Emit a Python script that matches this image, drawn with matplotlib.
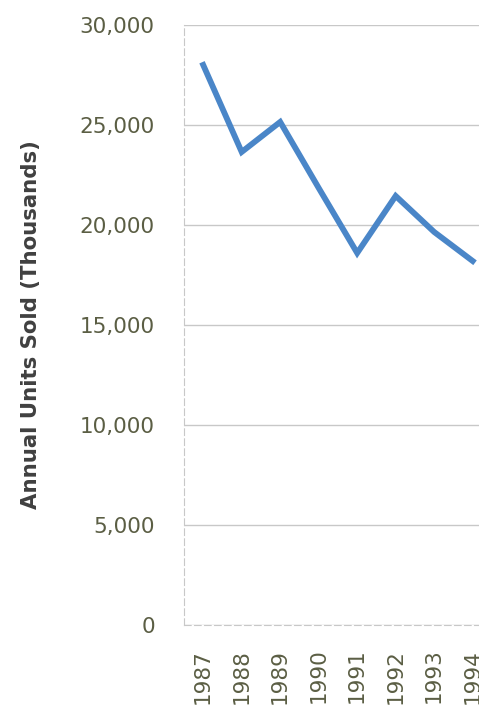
import numpy as np
import matplotlib.pyplot as plt
from matplotlib.ticker import FuncFormatter

years = ['1987', '1988', '1989', '1990', '1991', '1992', '1993', '1994']
units = [28000, 23650, 25150, 21850, 18600, 21450, 19650, 18200]

fs = 15.5
lab_col = '#5b5e44'

fig = plt.figure(figsize=(4.79, 7.12), dpi=100)
ax = fig.add_axes([0.384, 0.122, 0.643, 0.843])

x = np.arange(len(years))
ax.plot(x, units, color='#4a86c8', linewidth=4.2, solid_joinstyle='miter', zorder=3)

ax.set_xlim(-0.5, len(years) - 0.5)
ax.set_ylim(0, 30000)
ax.set_yticks(np.arange(0, 30001, 5000))
ax.yaxis.set_major_formatter(FuncFormatter(lambda v, p: '{:,.0f}'.format(v)))
ax.set_xticks(x)
ax.set_xticklabels(years, rotation=90)

ax.grid(axis='y', color='#c8c8c8', linewidth=1.0, zorder=0)
for s in ['top', 'right']:
    ax.spines[s].set_visible(False)
ax.spines['left'].set_color('#c8c8c8')
ax.spines['left'].set_linestyle((0, (6, 3)))
ax.spines['bottom'].set_color('#c8c8c8')
ax.spines['bottom'].set_linestyle((0, (6, 3)))

ax.tick_params(axis='y', length=0, pad=21, labelsize=fs, labelcolor=lab_col)
ax.tick_params(axis='x', length=0, pad=17, labelsize=fs, labelcolor=lab_col)

fig.text(31 / 479, 0.544, 'Annual Units Sold (Thousands)', rotation=90,
         ha='center', va='center', fontsize=15.3, fontweight='bold', color='#404040')

plt.savefig('out.png', dpi=100)
plt.close()
